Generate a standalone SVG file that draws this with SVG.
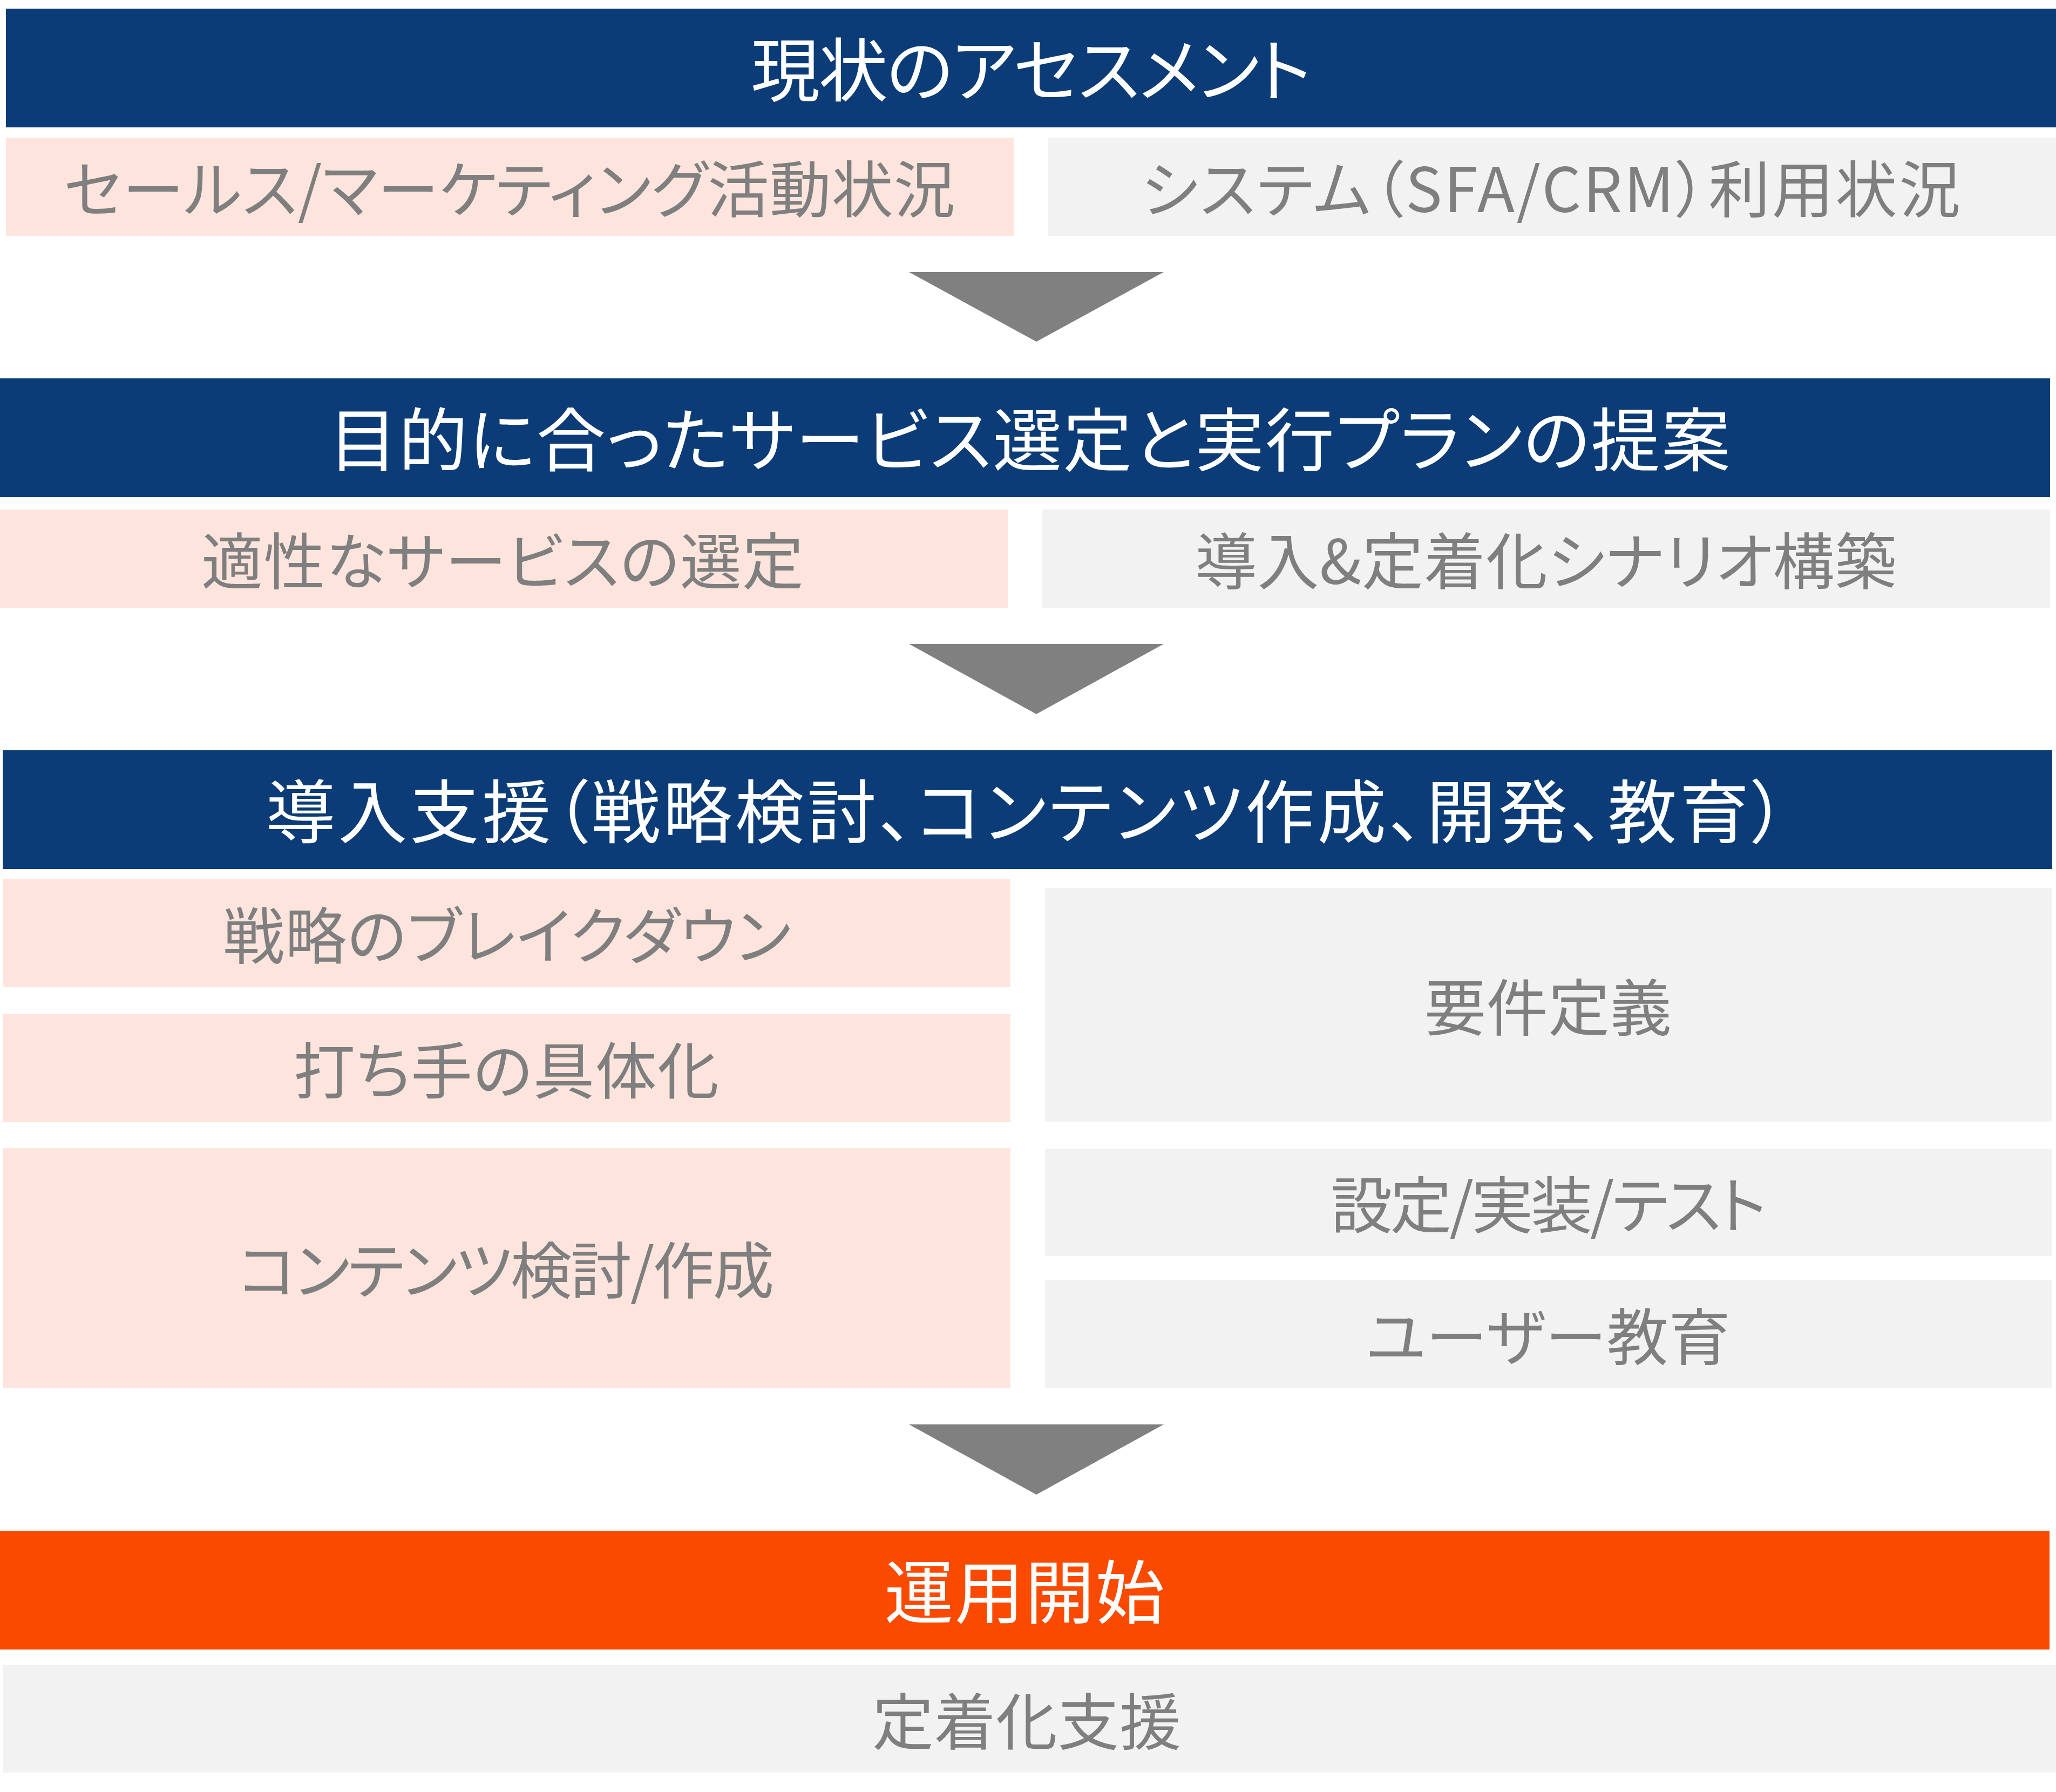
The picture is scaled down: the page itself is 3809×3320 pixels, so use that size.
<svg xmlns="http://www.w3.org/2000/svg" width="3809" height="3320" viewBox="0 0 3809 3320">
<style>
text{font-family:"Noto Sans CJK JP","Noto Sans CJK SC",sans-serif;text-anchor:middle;font-feature-settings:"palt";}
.title{fill:#0b3c77;}
.start{fill:#fa4a00;}
.pink{fill:#fde5dd;}
.gray{fill:#f2f2f2;}
.tt{fill:#ffffff;font-size:128px;}
.st{fill:#7f7f7f;font-size:114px;}
.arrow{fill:#808080;}
</style>
<rect width="3809" height="3320" fill="#ffffff"/>
<g id="assessment">
<rect class="title" x="11" y="16" width="3798" height="220"/>
<text class="tt" x="1910" y="178" textLength="1038" lengthAdjust="spacing">現状のアセスメント</text>
</g>
<g id="sales-activity">
<rect class="pink" x="11" y="255" width="1867" height="182"/>
<text class="st" x="944" y="393" textLength="1651" lengthAdjust="spacing">セールス/マーケティング活動状況</text>
</g>
<g id="system-usage">
<rect class="gray" x="1942" y="255" width="1867" height="182"/>
<text class="st" x="2873" y="393" textLength="1518" lengthAdjust="spacing">システム（SFA/CRM）利用状況</text>
</g>
<g id="proposal">
<rect class="title" x="0" y="701" width="3798" height="220"/>
<text class="tt" x="1907" y="863" textLength="2597" lengthAdjust="spacing">目的に合ったサービス選定と実行プランの提案</text>
</g>
<g id="service-selection">
<rect class="pink" x="0" y="944" width="1867" height="182"/>
<text class="st" x="931" y="1082" textLength="1116" lengthAdjust="spacing">適性なサービスの選定</text>
</g>
<g id="scenario">
<rect class="gray" x="1931" y="944" width="1867" height="182"/>
<text class="st" x="2864" y="1082" textLength="1299" lengthAdjust="spacing">導入&amp;定着化シナリオ構築</text>
</g>
<g id="implementation">
<rect class="title" x="5" y="1390" width="3797" height="220"/>
<text class="tt" x="1901" y="1552" textLength="2816" lengthAdjust="spacing">導入支援（戦略検討、コンテンツ作成、開発、教育）</text>
</g>
<g id="strategy-breakdown">
<rect class="pink" x="5" y="1629" width="1867" height="200"/>
<text class="st" x="939" y="1776" textLength="1052" lengthAdjust="spacing">戦略のブレイクダウン</text>
</g>
<g id="measures">
<rect class="pink" x="5" y="1879" width="1867" height="200"/>
<text class="st" x="938" y="2026" textLength="788" lengthAdjust="spacing">打ち手の具体化</text>
</g>
<g id="contents">
<rect class="pink" x="5" y="2127" width="1867" height="444"/>
<text class="st" x="938" y="2396" textLength="993" lengthAdjust="spacing">コンテンツ検討/作成</text>
</g>
<g id="requirements">
<rect class="gray" x="1936" y="1645" width="1865" height="433"/>
<text class="st" x="2868" y="1909" textLength="458" lengthAdjust="spacing">要件定義</text>
</g>
<g id="config">
<rect class="gray" x="1936" y="2128" width="1865" height="199"/>
<text class="st" x="2869" y="2275" textLength="807" lengthAdjust="spacing">設定/実装/テスト</text>
</g>
<g id="user-education">
<rect class="gray" x="1936" y="2372" width="1865" height="199"/>
<text class="st" x="2868" y="2519" textLength="675" lengthAdjust="spacing">ユーザー教育</text>
</g>
<g id="operation">
<rect class="start" x="0" y="2836" width="3797" height="220"/>
<text class="tt" x="1898" y="2998" textLength="519" lengthAdjust="spacing">運用開始</text>
</g>
<g id="retention">
<rect class="gray" x="5" y="3085" width="3804" height="199"/>
<text class="st" x="1902" y="3232" textLength="572" lengthAdjust="spacing">定着化支援</text>
</g>
<g id="connectors">
<polygon class="arrow" points="1684,504 2156,504 1920,633"/>
<polygon class="arrow" points="1684,1193 2156,1193 1920,1323"/>
<polygon class="arrow" points="1684,2639 2156,2639 1920,2769"/>
</g>
</svg>
